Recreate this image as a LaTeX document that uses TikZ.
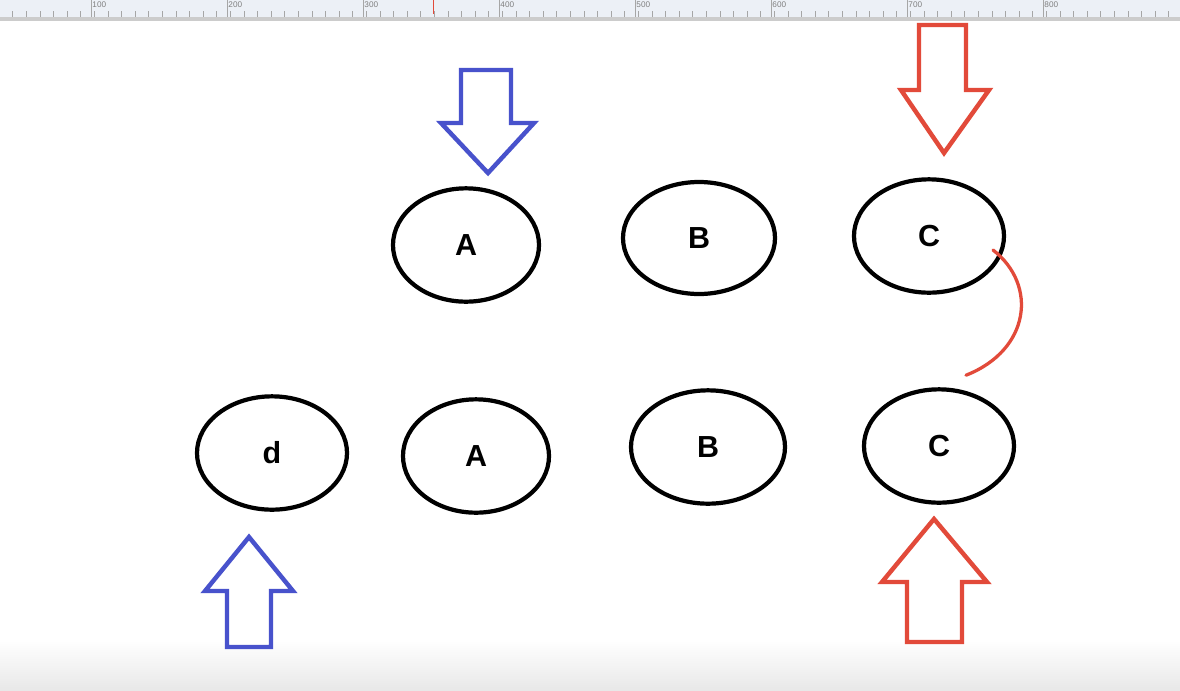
\documentclass[tikz,border=0pt]{standalone}
\usepackage{fontspec}
\setmainfont{Liberation Sans}
\usetikzlibrary{shapes.geometric}
\definecolor{penblue}{RGB}{72,82,204}
\definecolor{penred}{RGB}{226,74,58}
\definecolor{rulerbg}{RGB}{236,240,246}
\begin{document}
\begin{tikzpicture}[x=0.03cm,y=-0.03cm,
    oval/.style={draw,ellipse,line width=3.6pt,inner sep=0pt,
      minimum width=4.4cm,minimum height=3.4cm,
      font=\fontsize{26}{30}\selectfont\bfseries},
    bluearrow/.style={draw=penblue,line width=3.8pt,line join=miter,fill=white},
    redarrow/.style={draw=penred,line width=3.8pt,line join=miter,fill=white}]
    % page and screen frame
    \useasboundingbox (0,0) rectangle (1180,690);
    \fill[white] (0,0) rectangle (1180,690);
    \shade[top color=white,bottom color=black!9] (0,640) rectangle (1180,690);
    % ruler
    \begin{scope}
      \clip (0,0) rectangle (1180,17);
      \fill[rulerbg] (0,0) rectangle (1180,17);
      \foreach \i in {0,...,86}
        \draw[gray!70,line width=0.5pt] (\i*13.6-1,17) -- (\i*13.6-1,11);
      \foreach \i/\t in {1/100,2/200,3/300,4/400,5/500,6/600,7/700,8/800}
        \draw[gray!70,line width=0.5pt] (\i*136-45,17) -- (\i*136-45,0)
          node[anchor=north west,gray,inner sep=1pt,font=\fontsize{7}{7}\selectfont] {\t};
      \draw[penred,line width=0.8pt] (433,0) -- (433,14);
    \end{scope}
    \fill[gray!40] (0,17) rectangle (1180,21);
    % upper row
    \node[oval,minimum width=4.38cm] (topA) at (466,245) {A};
    \node[oval,minimum width=4.56cm,minimum height=3.36cm] (topB) at (699,238) {B};
    \node[oval,minimum width=4.5cm] (topC) at (929,236) {C};
    % lower row
    \node[oval,minimum width=4.5cm] (botD) at (272,453) {d};
    \node[oval,minimum width=4.38cm] (botA) at (476,456) {A};
    \node[oval,minimum width=4.62cm] (botB) at (708,447) {B};
    \node[oval,minimum width=4.5cm] (botC) at (939,446) {C};
    % blue arrows
    \draw[bluearrow] (461,70) -- (511,70) -- (511,123) -- (534,123) -- (488,173)
      -- (441,123) -- (461,123) -- cycle;
    \draw[bluearrow] (249,537) -- (293,591) -- (271,591) -- (271,647) -- (227,647)
      -- (227,591) -- (205,591) -- cycle;
    % red arrows
    \draw[redarrow] (919,25) -- (966,25) -- (966,90) -- (989,90) -- (944,153)
      -- (901,90) -- (919,90) -- cycle;
    \draw[redarrow] (934,519) -- (987,582) -- (962,582) -- (962,642) -- (907,642)
      -- (907,582) -- (882,582) -- cycle;
    % link C -- C
    \draw[penred,line width=2.8pt,line cap=round] ([shift={(64,14)}]topC.center)
      .. controls (1038,285) and (1030,350) .. ([shift={(27,-12)}]botC.north);
\end{tikzpicture}
\end{document}
